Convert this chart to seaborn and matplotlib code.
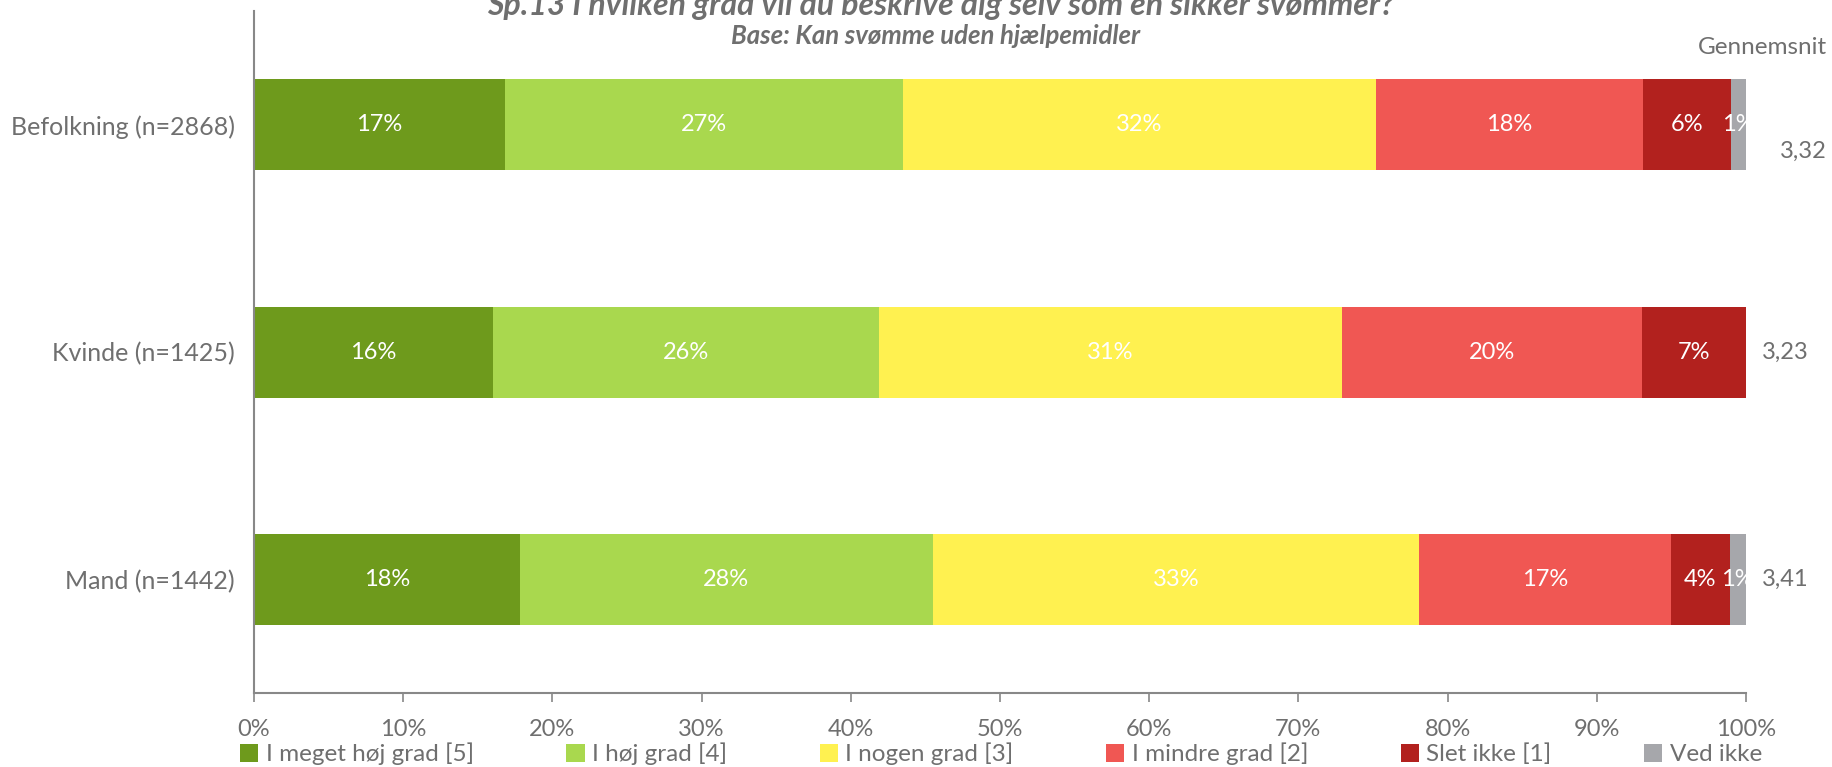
import matplotlib.pyplot as plt
import numpy as np
import pandas as pd
import seaborn as sns
from matplotlib.patches import Patch

groups = ["Befolkning (n=2868)", "Kvinde (n=1425)", "Mand (n=1442)"]
answers = ["I meget høj grad [5]", "I høj grad [4]", "I nogen grad [3]",
           "I mindre grad [2]", "Slet ikke [1]", "Ved ikke"]
colors = ["#6E9A1C", "#A9D84E", "#FFF150", "#F05753", "#B2211E", "#A6A7AB"]

# share in percent per group, in answer order
befolkning = [16.8, 26.7, 31.7, 17.9, 5.9, 1.0]
kvinde = [16.0, 25.9, 31.0, 20.1, 7.0, 0.0]
mand = [17.8, 27.7, 32.6, 16.9, 3.9, 1.1]
averages = ["3,32", "3,23", "3,41"]

title = "Sp.13 I hvilken grad vil du beskrive dig selv som en sikker svømmer?"
subtitle = "Base: Kan svømme uden hjælpemidler"

grey = "#6F6F6F"

sns.set_theme(style="white")
plt.rcParams["font.family"] = ["Lato", "DejaVu Sans"]

values = np.array([befolkning, kvinde, mand])
cum = values.cumsum(axis=1)
df = pd.DataFrame(cum, columns=answers)
df["group"] = groups

fig = plt.figure(figsize=(18.33, 7.67), dpi=100)
ax = fig.add_axes([0.1386, 0.0965, 0.8139, 0.889])

# stacked bars: draw cumulative totals from the right-most segment backwards
for i in range(len(answers) - 1, -1, -1):
    sns.barplot(data=df, x=answers[i], y="group", color=colors[i],
                width=0.4, saturation=1, linewidth=0, ax=ax, orient="h")

for r in range(len(groups)):
    for i in range(len(answers)):
        v = values[r, i]
        if v <= 0:
            continue
        ax.text(cum[r, i] - v / 2, r, f"{round(v):d}%", ha="center",
                va="center", color="white", fontsize=17)

ax.set_xlim(0, 100)
ax.set_ylim(2.5, -0.5)
ax.set_xticks(np.arange(0, 101, 10))
ax.set_xticklabels([f"{t}%" for t in range(0, 101, 10)])
ax.set_xlabel("")
ax.set_ylabel("")
ax.tick_params(axis="x", bottom=True, length=6.5, width=1.2, color="#888888",
               labelsize=17, labelcolor=grey, pad=12)
ax.tick_params(axis="y", left=False, labelsize=18, labelcolor=grey, pad=8)
for s in ["top", "right"]:
    ax.spines[s].set_visible(False)
for s in ["left", "bottom"]:
    ax.spines[s].set_color("#888888")
    ax.spines[s].set_linewidth(1.5)

# averages to the right of the bars
avg_x = [102.3, 101.1, 101.1]
avg_dy = [0.118, 0.0, 0.0]
for r, a in enumerate(averages):
    ax.text(avg_x[r], r + avg_dy[r], a, ha="left", va="center",
            color=grey, fontsize=17, clip_on=False)
ax.text(1827, 767 - 47, "Gennemsnit", transform=None, ha="right",
        va="center", color=grey, fontsize=17.5)

fig.text(941 / 1833, 1 - 15 / 767, title, ha="center", va="baseline",
         fontsize=23, fontweight="bold", fontstyle="italic", color=grey)
fig.text(936 / 1833, 1 - 44 / 767, subtitle, ha="center", va="baseline",
         fontsize=18.5, fontweight="bold", fontstyle="italic", color=grey)

handles = [Patch(facecolor=c, edgecolor="none") for c in colors]
fig.legend(handles, answers, ncol=6, loc="center left", mode="expand",
           bbox_to_anchor=(240 / 1833, 1 - 754 / 767, (1762 - 240) / 1833, 0),
           frameon=False, fontsize=17.5, labelcolor=grey, handlelength=0.75,
           handleheight=0.75, handletextpad=0.3, borderaxespad=0,
           borderpad=0)

fig.savefig("out.png", dpi=100)
